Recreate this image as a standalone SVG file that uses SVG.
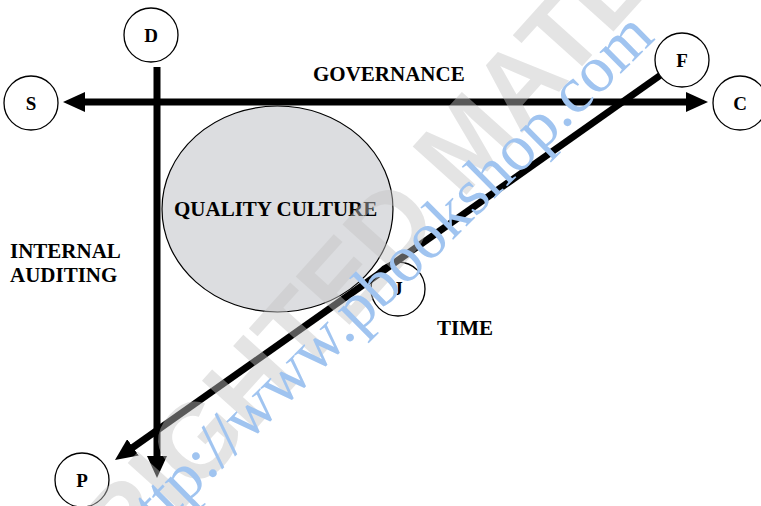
<svg xmlns="http://www.w3.org/2000/svg" width="761" height="506" viewBox="0 0 761 506">
  <style>
    .circ { fill: #ffffff; stroke: #000000; stroke-width: 1.3; }
    .letter { font-family: "Liberation Serif", "Times New Roman", serif; font-weight: bold; font-size: 19px; fill: #000000; text-anchor: middle; }
    .label { font-family: "Liberation Serif", "Times New Roman", serif; font-weight: bold; font-size: 21px; fill: #000000; }
    .conn { stroke: #000000; stroke-width: 7; fill: none; }
    .wm-grey { font-family: "Liberation Sans", Arial, sans-serif; font-weight: bold; font-size: 105px; fill: #c4c4c4; opacity: 0.45; }
    .wm-blue { font-family: "Liberation Serif", "Times New Roman", serif; font-size: 66px; fill: #a0c4f0; }
  </style>
  <defs>
    <marker id="arrow" markerUnits="userSpaceOnUse" markerWidth="22" markerHeight="20" refX="4" refY="10" orient="auto-start-reverse" viewBox="0 0 22 20">
      <path d="M0,0 L22,10 L0,20 Z" fill="#000000"/>
    </marker>
  </defs>
  <rect x="0" y="0" width="761" height="506" fill="#ffffff"/>

  <g id="node-quality-culture">
    <ellipse cx="277.5" cy="209" rx="115.5" ry="103" fill="#dcdde0" stroke="#000000" stroke-width="1.2"/>
    <text class="label" x="174" y="216">QUALITY CULTURE</text>
  </g>

  <g id="node-J">
    <circle class="circ" cx="398" cy="289" r="27"/>
    <text class="letter" x="398" y="295">J</text>
  </g>

  <g id="connectors">
    <line id="governance-axis" class="conn" x1="81" y1="102" x2="690" y2="102" marker-start="url(#arrow)" marker-end="url(#arrow)"/>
    <line id="internal-auditing-axis" class="conn" x1="157" y1="67" x2="157" y2="460" marker-end="url(#arrow)"/>
    <line id="time-axis" class="conn" x1="660" y1="75.5" x2="129.7" y2="449.6" marker-end="url(#arrow)"/>
  </g>

  <g id="node-D">
    <circle class="circ" cx="151" cy="35" r="27"/>
    <text class="letter" x="151" y="42">D</text>
  </g>
  <g id="node-S">
    <circle class="circ" cx="31" cy="103" r="27"/>
    <text class="letter" x="31" y="110">S</text>
  </g>
  <g id="node-C">
    <circle class="circ" cx="740" cy="103" r="27"/>
    <text class="letter" x="740" y="110">C</text>
  </g>
  <g id="node-F">
    <circle class="circ" cx="682" cy="60" r="27"/>
    <text class="letter" x="682" y="67">F</text>
  </g>
  <g id="node-P">
    <circle class="circ" cx="82" cy="480" r="27"/>
    <text class="letter" x="82" y="487">P</text>
  </g>

  <g id="label-governance">
    <text class="label" x="313" y="81">GOVERNANCE</text>
  </g>
  <g id="label-internal-auditing">
    <text class="label" x="10" y="258">INTERNAL</text>
    <text class="label" x="10" y="282">AUDITING</text>
  </g>
  <g id="label-time">
    <text class="label" x="437" y="335">TIME</text>
  </g>

  <g id="watermarks">
    <text class="wm-grey" transform="translate(-73,794) rotate(-48)">COPYRIGHTED MATERIAL</text>
    <text class="wm-blue" transform="translate(135.5,554) rotate(-44.7)">http://www.pbookshop.com</text>
  </g>
</svg>
